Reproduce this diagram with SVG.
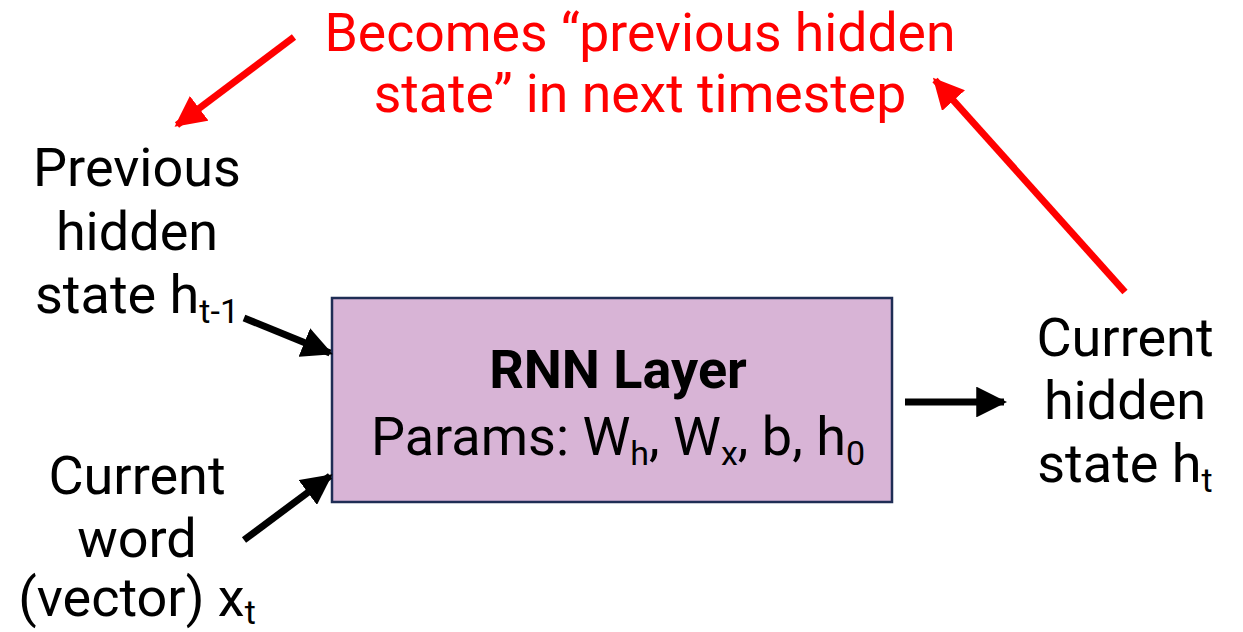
<svg xmlns="http://www.w3.org/2000/svg" width="1243" height="632" viewBox="0 0 1243 632">
<style>
text{font-family:Roboto,"Liberation Sans",sans-serif;font-size:54px;fill:#000;text-anchor:middle}
.red{fill:#FF0000;font-size:53.5px}
.b{font-weight:bold}
.s{font-size:34px}
.conn{stroke-width:7;fill:none}
</style>
<defs>
<marker id="ab" viewBox="0 0 10 10" refX="9" refY="5" markerWidth="4.4" markerHeight="4.4" orient="auto" markerUnits="strokeWidth"><path d="M0,0L10,5L0,10z" fill="#000"/></marker>
<marker id="ar" viewBox="0 0 10 10" refX="9" refY="5" markerWidth="4.4" markerHeight="4.4" orient="auto" markerUnits="strokeWidth"><path d="M0,0L10,5L0,10z" fill="#FF0000"/></marker>
</defs>
<g id="title">
<text class="red" x="640" y="51">Becomes “previous hidden</text>
<text class="red" x="640" y="112">state” in next timestep</text>
</g>
<g id="rnn">
<rect x="332" y="298" width="560" height="204" fill="#D8B4D6" stroke="#1F2D55" stroke-width="2.5"/>
<text class="b" x="618" y="388">RNN Layer</text>
<text x="618" y="455">Params: W<tspan class="s" dy="10">h</tspan><tspan dy="-10">, W</tspan><tspan class="s" dy="10">x</tspan><tspan dy="-10">, b, h</tspan><tspan class="s" dy="10">0</tspan></text>
</g>
<g id="prev">
<text x="137" y="186">Previous</text>
<text x="137" y="250">hidden</text>
<text x="137" y="313">state h<tspan class="s" dy="10">t-1</tspan></text>
</g>
<g id="word">
<text x="137" y="494">Current</text>
<text x="137" y="557">word</text>
<text x="137" y="616">(vector) x<tspan class="s" dy="8">t</tspan></text>
</g>
<g id="cur">
<text x="1125" y="356">Current</text>
<text x="1125" y="419">hidden</text>
<text x="1125" y="482">state h<tspan class="s" dy="10">t</tspan></text>
</g>
<g id="connectors">
<line class="conn" stroke="#000" x1="244" y1="318" x2="330" y2="353" marker-end="url(#ab)"/>
<line class="conn" stroke="#000" x1="244" y1="540" x2="330" y2="476" marker-end="url(#ab)"/>
<line class="conn" stroke="#000" x1="905" y1="402" x2="1004" y2="402" marker-end="url(#ab)"/>
<line class="conn" stroke="#FF0000" x1="294" y1="37" x2="177" y2="125" marker-end="url(#ar)"/>
<line class="conn" stroke="#FF0000" x1="1125" y1="292" x2="935" y2="80" marker-end="url(#ar)"/>
</g>
</svg>
